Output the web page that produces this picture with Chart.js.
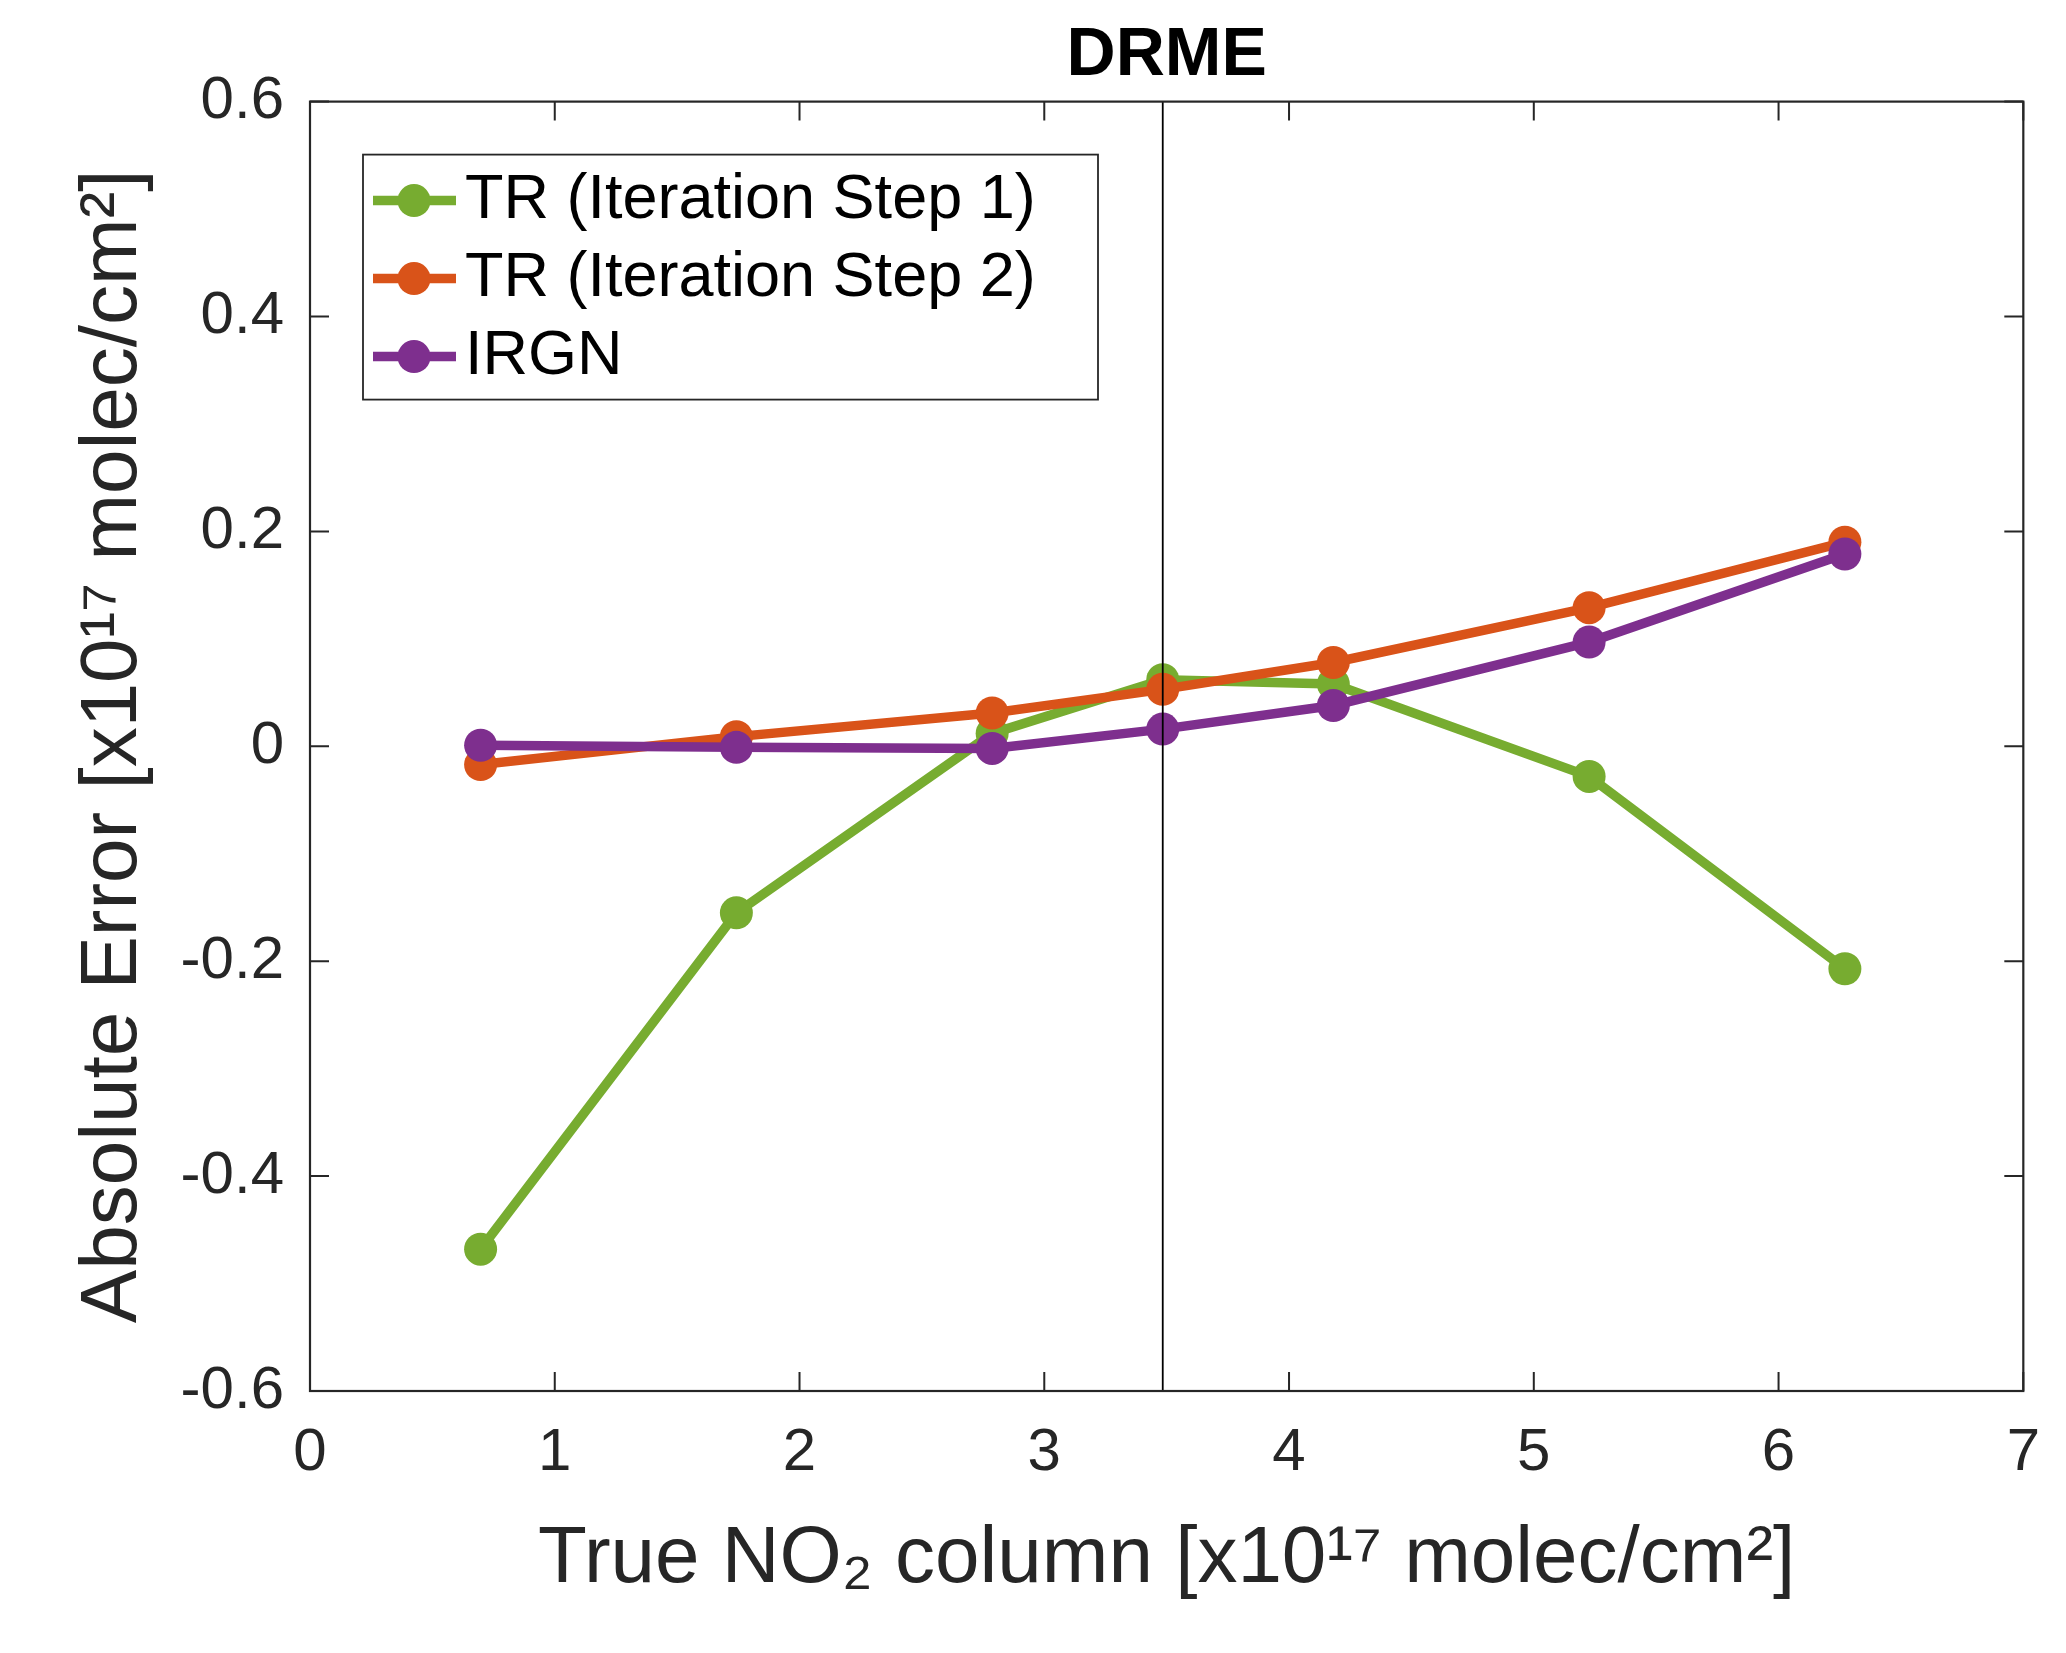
<!DOCTYPE html>
<html>
<head>
<meta charset="utf-8">
<title>DRME</title>
<script src="https://cdn.jsdelivr.net/npm/chart.js@4.4.0/dist/chart.umd.min.js"></script>
<style>
    html, body { margin: 0; padding: 0; background: #ffffff; }
    #wrap { width: 2066px; height: 1653px; }
</style>
</head>
<body>
<div id="wrap"><canvas id="drmeChart" width="2066" height="1653"></canvas></div>
<script>
// True NO2 column (x10^17 molec/cm^2) at which the errors were evaluated
const xValues = [0.697, 1.742, 2.787, 3.484, 4.181, 5.226, 6.271];

// Absolute error (x10^17 molec/cm^2)
const tr1Values = [-0.468, -0.155, 0.012, 0.062, 0.058, -0.028, -0.207];
const tr2Values = [-0.017, 0.009, 0.031, 0.053, 0.078, 0.129, 0.190];
const irgnValues = [0.001, -0.001, -0.002, 0.016, 0.038, 0.097, 0.179];

const seriesNames = ["TR (Iteration Step 1)", "TR (Iteration Step 2)", "IRGN"];
const seriesColors = ["#77AC30", "#D95319", "#7E2F8E"];

// vertical reference line
const refLineX = 3.484;

const xTickValues = [0, 1, 2, 3, 4, 5, 6, 7];
const xTickLabels = ["0", "1", "2", "3", "4", "5", "6", "7"];
const yTickValues = [-0.6, -0.4, -0.2, 0, 0.2, 0.4, 0.6];
const yTickLabels = ["-0.6", "-0.4", "-0.2", "0", "0.2", "0.4", "0.6"];

const chartTitle = "DRME";
const xTitle = "True NO\u2082 column [x10\u00B9\u2077 molec/cm\u00B2]";
const yTitle = "Absolute Error [x10\u00B9\u2077 molec/cm\u00B2]";

const FONT = "'Liberation Sans', Arial, Helvetica, sans-serif";
const AXIS_COLOR = "#262626";
const TICK_LEN = 19;
const LINE_W = 9.5;
const MARKER_R = 16.5;

Chart.defaults.font.family = FONT;

function toPoints(ys) {
    return xValues.map((x, i) => ({ x: x, y: ys[i] }));
}

function seriesDataset(idx, ys, order) {
    return {
        label: seriesNames[idx],
        data: toPoints(ys),
        borderColor: seriesColors[idx],
        backgroundColor: seriesColors[idx],
        pointBackgroundColor: seriesColors[idx],
        pointBorderWidth: 0,
        pointRadius: MARKER_R,
        borderWidth: LINE_W,
        tension: 0,
        order: order
    };
}

/* -------------------------------
   MATLAB style box + inward ticks
---------------------------------*/
const boxAxesPlugin = {
    id: "boxAxes",
    afterDatasetsDraw(chart) {
        const { ctx, chartArea: a, scales } = chart;
        const xs = scales.x;
        const ys = scales.y;
        ctx.save();
        ctx.strokeStyle = AXIS_COLOR;
        ctx.lineWidth = 2;
        ctx.beginPath();
        xTickValues.forEach(v => {
            const px = xs.getPixelForValue(v);
            ctx.moveTo(px, a.bottom);
            ctx.lineTo(px, a.bottom - TICK_LEN);
            ctx.moveTo(px, a.top);
            ctx.lineTo(px, a.top + TICK_LEN);
        });
        yTickValues.forEach(v => {
            const py = ys.getPixelForValue(v);
            ctx.moveTo(a.left, py);
            ctx.lineTo(a.left + TICK_LEN, py);
            ctx.moveTo(a.right, py);
            ctx.lineTo(a.right - TICK_LEN, py);
        });
        ctx.stroke();
        ctx.lineWidth = 2.2;
        ctx.strokeRect(a.left, a.top, a.right - a.left, a.bottom - a.top);
        ctx.restore();
    }
};

/* -------------------------------
   Legend box inside the axes (top-left)
---------------------------------*/
const boxLegendPlugin = {
    id: "boxLegend",
    afterDraw(chart) {
        const { ctx, chartArea: a } = chart;
        const left = a.left + 53;
        const top = a.top + 53;
        const w = 735;
        const h = 245;
        const rowY = [99, 177, 255];

        ctx.save();
        ctx.fillStyle = "#ffffff";
        ctx.fillRect(left, top, w, h);
        ctx.strokeStyle = AXIS_COLOR;
        ctx.lineWidth = 1.8;
        ctx.strokeRect(left, top, w, h);

        const items = chart.data.datasets.filter(d => seriesNames.includes(d.label));
        items.forEach((ds, i) => {
            const y = a.top + rowY[i];
            ctx.strokeStyle = ds.borderColor;
            ctx.lineWidth = LINE_W;
            ctx.beginPath();
            ctx.moveTo(a.left + 63, y);
            ctx.lineTo(a.left + 146, y);
            ctx.stroke();
            ctx.fillStyle = ds.borderColor;
            ctx.beginPath();
            ctx.arc(a.left + 104, y, MARKER_R, 0, Math.PI * 2);
            ctx.fill();

            ctx.fillStyle = "#000000";
            ctx.font = "63px " + FONT;
            ctx.textAlign = "left";
            ctx.textBaseline = "middle";
            ctx.fillText(ds.label, a.left + 155, y);
        });
        ctx.restore();
    }
};

const ctx = document.getElementById("drmeChart").getContext("2d");

new Chart(ctx, {
    type: "line",
    data: {
        datasets: [
            seriesDataset(0, tr1Values, 3),
            seriesDataset(1, tr2Values, 2),
            seriesDataset(2, irgnValues, 1),
            {
                label: "ref",
                data: [{ x: refLineX, y: yTickValues[0] }, { x: refLineX, y: yTickValues[yTickValues.length - 1] }],
                borderColor: "#000000",
                borderWidth: 1.8,
                pointRadius: 0,
                order: 0
            }
        ]
    },
    options: {
        responsive: false,
        devicePixelRatio: 1,
        animation: false,
        layout: { padding: { left: 0, right: 26, top: 0, bottom: 0 } },
        plugins: {
            legend: { display: false },
            tooltip: { enabled: false },
            title: {
                display: true,
                text: chartTitle,
                fullSize: false,
                color: "#000000",
                font: { family: FONT, size: 68, weight: "bold" },
                padding: { top: 15, bottom: 5 }
            }
        },
        scales: {
            x: {
                type: "linear",
                min: 0,
                max: 7,
                afterBuildTicks: (s) => { s.ticks = xTickValues.map(v => ({ value: v })); },
                afterFit: (s) => { s.height = 262; },
                grid: { display: false, drawTicks: false },
                border: { display: false },
                ticks: {
                    autoSkip: false,
                    maxRotation: 0,
                    padding: 26,
                    color: AXIS_COLOR,
                    font: { size: 60 },
                    callback: (v, i) => xTickLabels[i]
                },
                title: {
                    display: true,
                    text: xTitle,
                    color: AXIS_COLOR,
                    font: { size: 80 },
                    padding: { top: 0, bottom: 45 }
                }
            },
            y: {
                type: "linear",
                min: -0.6,
                max: 0.6,
                afterBuildTicks: (s) => { s.ticks = yTickValues.map(v => ({ value: v })); },
                afterFit: (s) => { s.width = 310; },
                grid: { display: false, drawTicks: false },
                border: { display: false },
                ticks: {
                    autoSkip: false,
                    padding: 26,
                    color: AXIS_COLOR,
                    font: { size: 60 },
                    callback: (v, i) => yTickLabels[i]
                },
                title: {
                    display: true,
                    text: yTitle,
                    color: AXIS_COLOR,
                    font: { size: 80 },
                    padding: { top: 66, bottom: 0 }
                }
            }
        }
    },
    plugins: [boxAxesPlugin, boxLegendPlugin]
});
</script>
</body>
</html>
